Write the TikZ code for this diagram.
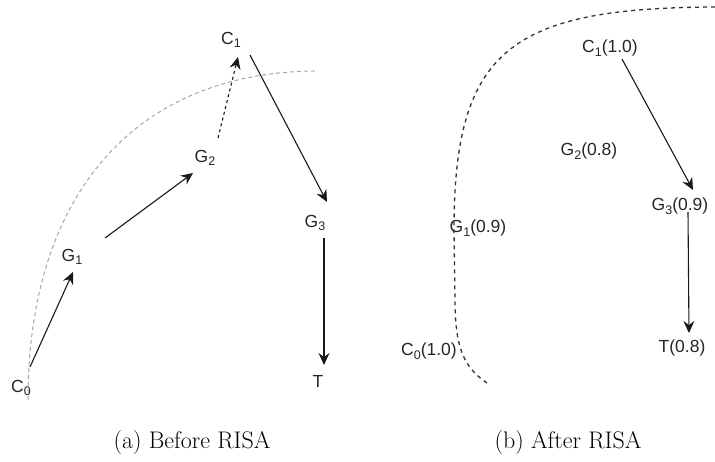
\documentclass[tikz,border=0pt]{standalone}
\usepackage{fontspec}
\newfontfamily\labfont{Liberation Sans}
\usetikzlibrary{arrows.meta,calc}
\newcommand\sbs[1]{\raisebox{-3.5pt}{\fontsize{12.5}{13}\selectfont #1}}
\begin{document}
\begin{tikzpicture}[x=1pt,y=-1pt,
  lbl/.style={font=\labfont\fontsize{17.5}{20}\selectfont, inner sep=1pt, text=black!85},
  arr/.style={draw=black!90, line width=1.1pt, -{Stealth[length=12pt,width=11pt,inset=4pt]}},
  garc/.style={draw=black!35, line width=1pt, dash pattern=on 4pt off 3pt},
  darc/.style={draw=black!80, line width=1.3pt, dash pattern=on 4pt off 4pt},
  capt/.style={font=\fontsize{24}{28}\selectfont, inner sep=0pt}]
\useasboundingbox (0,0) rectangle (715,462);
% left panel
\draw[garc] (28,400) .. controls (28,195) and (135,71) .. (318,71);
\node[lbl] (c0) at (21,388) {C\sbs{0}};
\node[lbl] (g1) at (72,257) {G\sbs{1}};
\node[lbl] (g2) at (205,158) {G\sbs{2}};
\node[lbl] (c1) at (231,40) {C\sbs{1}};
\node[lbl] (g3) at (315,223) {G\sbs{3}};
\node[lbl] (t) at (318,381) {T};
\draw[arr] ($(c0)+(9,-21)$) -- ($(g1)+(1,15)$);
\draw[arr] ($(g1)+(33,-19)$) -- ($(g2)+(-12,15)$);
\draw[arr, dashed] ($(g2)+(13,-20)$) -- ($(c1)+(7,17)$);
\draw[arr] ($(c1)+(19,15)$) -- ($(g3)+(12,-21)$);
\draw[arr] ($(g3)+(9,15)$) -- ($(t)+(6,-16)$);
% right panel
\draw[darc] (487,383) .. controls (465,368) and (455,350) .. (455,300) -- (454,230) .. controls (454,50) and (510,8) .. (715,7);
\node[lbl] (rc1) at (610,48) {C\sbs{1}(1.0)};
\node[lbl] (rg2) at (589,151) {G\sbs{2}(0.8)};
\node[lbl] (rg3) at (680,206) {G\sbs{3}(0.9)};
\node[lbl] (rg1) at (478,228) {G\sbs{1}(0.9)};
\node[lbl] (rc0) at (429,351) {C\sbs{0}(1.0)};
\node[lbl] (rt) at (682,348) {T(0.8)};
\draw[arr] ($(rc1)+(12,11)$) -- ($(rg3)+(13,-16)$);
\draw[arr] ($(rg3)+(8,6)$) -- ($(rt)+(7,-15)$);
% captions
\node[capt] (capa) at (192,443) {(a) Before RISA};
\node[capt] (capb) at (568,443) {(b) After RISA};
\end{tikzpicture}
\end{document}
